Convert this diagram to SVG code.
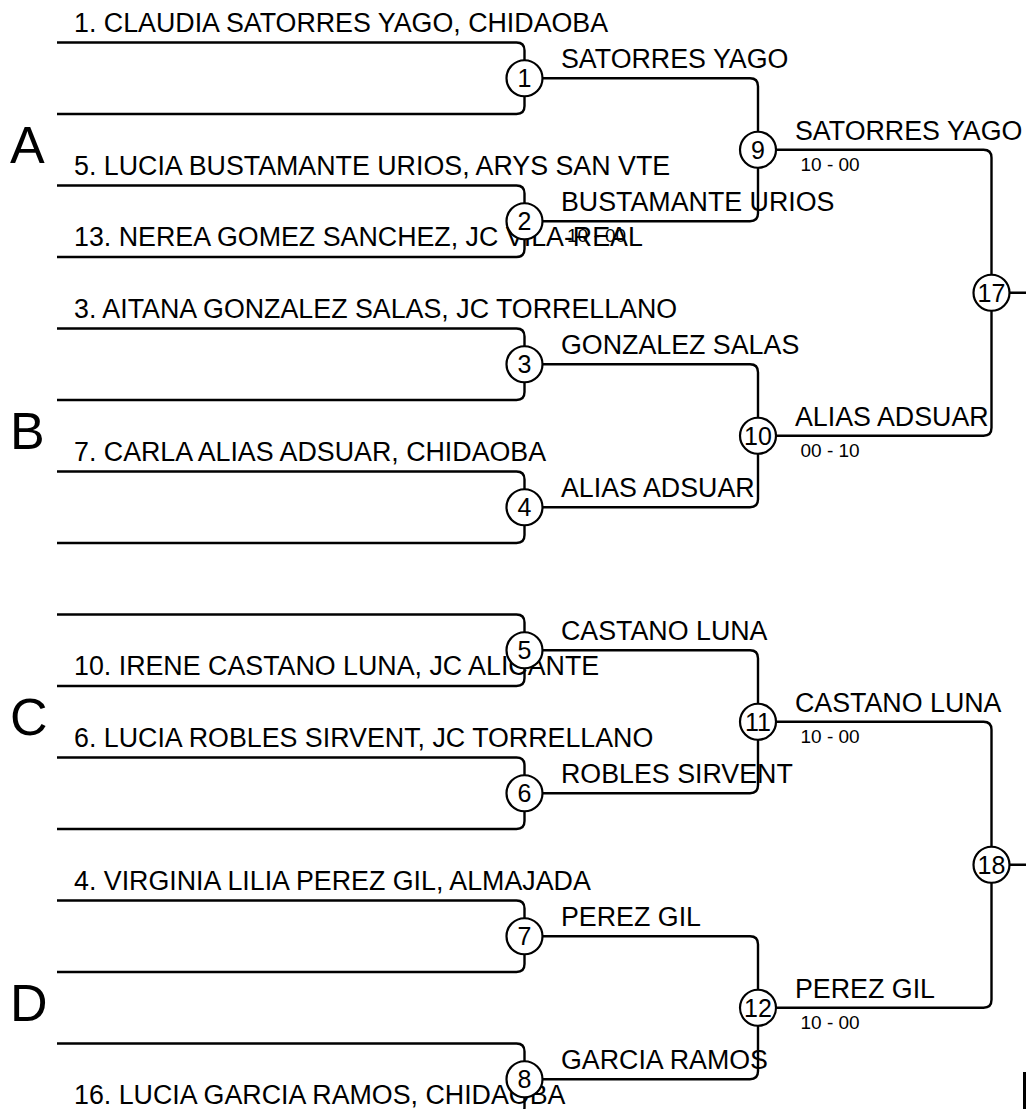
<svg xmlns="http://www.w3.org/2000/svg" width="1026" height="1109" viewBox="0 0 1026 1109">
<style>
.ln{fill:none;stroke:#000;stroke-width:2.4}
.c{fill:#fff;stroke:#000;stroke-width:2.2}
.t{font-family:"Liberation Sans",Arial,sans-serif;font-size:26.8px;fill:#000}
.n{font-family:"Liberation Sans",Arial,sans-serif;font-size:25px;fill:#000;text-anchor:middle}
.s{font-family:"Liberation Sans",Arial,sans-serif;font-size:19px;fill:#000}
.g{font-family:"Liberation Sans",Arial,sans-serif;font-size:52px;fill:#000}
</style>
<rect width="1026" height="1109" fill="#fff"/>
<g id="connectors">
<path class="ln" d="M57,42.5 H516.5 Q524.5,42.5 524.5,50.5 V60.25 M57,114 H516.5 Q524.5,114 524.5,106 V96.25"/>
<path class="ln" d="M57,185.5 H516.5 Q524.5,185.5 524.5,193.5 V203.25 M57,257 H516.5 Q524.5,257 524.5,249 V239.25"/>
<path class="ln" d="M57,328.5 H516.5 Q524.5,328.5 524.5,336.5 V346.25 M57,400 H516.5 Q524.5,400 524.5,392 V382.25"/>
<path class="ln" d="M57,471.5 H516.5 Q524.5,471.5 524.5,479.5 V489.25 M57,543 H516.5 Q524.5,543 524.5,535 V525.25"/>
<path class="ln" d="M57,614.5 H516.5 Q524.5,614.5 524.5,622.5 V632.25 M57,686 H516.5 Q524.5,686 524.5,678 V668.25"/>
<path class="ln" d="M57,757.5 H516.5 Q524.5,757.5 524.5,765.5 V775.25 M57,829 H516.5 Q524.5,829 524.5,821 V811.25"/>
<path class="ln" d="M57,900.5 H516.5 Q524.5,900.5 524.5,908.5 V918.25 M57,972 H516.5 Q524.5,972 524.5,964 V954.25"/>
<path class="ln" d="M57,1043.5 H516.5 Q524.5,1043.5 524.5,1051.5 V1061.25 M57,1115 H516.5 Q524.5,1115 524.5,1107 V1097.25"/>
<path class="ln" d="M542.5,78.25 H750 Q758,78.25 758,86.25 V131.75 M542.5,221.25 H750 Q758,221.25 758,213.25 V167.75"/>
<path class="ln" d="M542.5,364.25 H750 Q758,364.25 758,372.25 V417.75 M542.5,507.25 H750 Q758,507.25 758,499.25 V453.75"/>
<path class="ln" d="M542.5,650.25 H750 Q758,650.25 758,658.25 V703.75 M542.5,793.25 H750 Q758,793.25 758,785.25 V739.75"/>
<path class="ln" d="M542.5,936.25 H750 Q758,936.25 758,944.25 V989.75 M542.5,1079.25 H750 Q758,1079.25 758,1071.25 V1025.75"/>
<path class="ln" d="M776,149.75 H983.5 Q991.5,149.75 991.5,157.75 V274.75 M776,435.75 H983.5 Q991.5,435.75 991.5,427.75 V310.75"/>
<path class="ln" d="M776,721.75 H983.5 Q991.5,721.75 991.5,729.75 V846.75 M776,1007.75 H983.5 Q991.5,1007.75 991.5,999.75 V882.75"/>
<path class="ln" d="M1009.5,292.75 H1030 M1009.5,864.75 H1030"/>
</g>
<g id="groups">
<text class="g" x="10" y="163">A</text>
<text class="g" x="10" y="449">B</text>
<text class="g" x="10" y="735">C</text>
<text class="g" x="10" y="1021">D</text>
</g>
<g id="entrants">
<text class="t" x="74" y="31.5">1. CLAUDIA SATORRES YAGO, CHIDAOBA</text>
<text class="t" x="74" y="174.5">5. LUCIA BUSTAMANTE URIOS, ARYS SAN VTE</text>
<text class="t" x="74" y="246">13. NEREA GOMEZ SANCHEZ, JC VILA-REAL</text>
<text class="t" x="74" y="317.5">3. AITANA GONZALEZ SALAS, JC TORRELLANO</text>
<text class="t" x="74" y="460.5">7. CARLA ALIAS ADSUAR, CHIDAOBA</text>
<text class="t" x="74" y="675">10. IRENE CASTANO LUNA, JC ALICANTE</text>
<text class="t" x="74" y="746.5">6. LUCIA ROBLES SIRVENT, JC TORRELLANO</text>
<text class="t" x="74" y="889.5">4. VIRGINIA LILIA PEREZ GIL, ALMAJADA</text>
<text class="t" x="74" y="1104">16. LUCIA GARCIA RAMOS, CHIDAOBA</text>
</g>
<g id="m1"><circle class="c" cx="524.5" cy="78.25" r="18"/><text class="n" x="524.5" y="87.25">1</text><text class="t" x="561" y="68">SATORRES YAGO</text></g>
<g id="m2"><circle class="c" cx="524.5" cy="221.25" r="18"/><text class="n" x="524.5" y="230.25">2</text><text class="t" x="561" y="211">BUSTAMANTE URIOS</text><text class="s" x="567" y="242">10 - 00</text></g>
<g id="m3"><circle class="c" cx="524.5" cy="364.25" r="18"/><text class="n" x="524.5" y="373.25">3</text><text class="t" x="561" y="354">GONZALEZ SALAS</text></g>
<g id="m4"><circle class="c" cx="524.5" cy="507.25" r="18"/><text class="n" x="524.5" y="516.25">4</text><text class="t" x="561" y="497">ALIAS ADSUAR</text></g>
<g id="m5"><circle class="c" cx="524.5" cy="650.25" r="18"/><text class="n" x="524.5" y="659.25">5</text><text class="t" x="561" y="640">CASTANO LUNA</text></g>
<g id="m6"><circle class="c" cx="524.5" cy="793.25" r="18"/><text class="n" x="524.5" y="802.25">6</text><text class="t" x="561" y="783">ROBLES SIRVENT</text></g>
<g id="m7"><circle class="c" cx="524.5" cy="936.25" r="18"/><text class="n" x="524.5" y="945.25">7</text><text class="t" x="561" y="926">PEREZ GIL</text></g>
<g id="m8"><circle class="c" cx="524.5" cy="1079.25" r="18"/><text class="n" x="524.5" y="1088.25">8</text><text class="t" x="561" y="1069">GARCIA RAMOS</text></g>
<g id="m9"><circle class="c" cx="758" cy="149.75" r="18"/><text class="n" x="758" y="158.75">9</text><text class="t" x="795" y="139.5">SATORRES YAGO</text><text class="s" x="800.5" y="170.5">10 - 00</text></g>
<g id="m10"><circle class="c" cx="758" cy="435.75" r="18"/><text class="n" x="758" y="444.75">10</text><text class="t" x="795" y="425.5">ALIAS ADSUAR</text><text class="s" x="800.5" y="456.5">00 - 10</text></g>
<g id="m11"><circle class="c" cx="758" cy="721.75" r="18"/><text class="n" x="758" y="730.75">11</text><text class="t" x="795" y="711.5">CASTANO LUNA</text><text class="s" x="800.5" y="742.5">10 - 00</text></g>
<g id="m12"><circle class="c" cx="758" cy="1007.75" r="18"/><text class="n" x="758" y="1016.75">12</text><text class="t" x="795" y="997.5">PEREZ GIL</text><text class="s" x="800.5" y="1028.5">10 - 00</text></g>
<g id="m17"><circle class="c" cx="991.5" cy="292.75" r="18"/><text class="n" x="991.5" y="301.75">17</text></g>
<g id="m18"><circle class="c" cx="991.5" cy="864.75" r="18"/><text class="n" x="991.5" y="873.75">18</text></g>
<rect x="1023" y="1072" width="4" height="40" fill="#000"/>
</svg>
